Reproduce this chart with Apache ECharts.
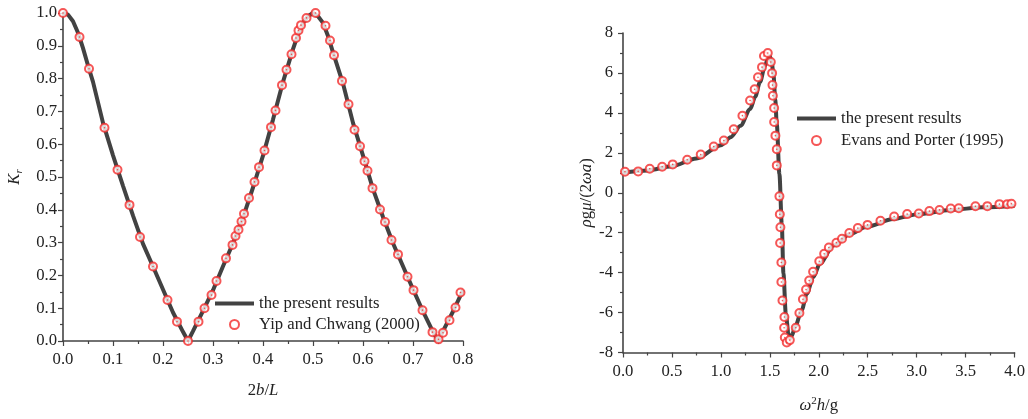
<!DOCTYPE html>
<html>
<head>
<meta charset="utf-8">
<script src="https://cdn.jsdelivr.net/npm/echarts@6/dist/echarts.min.js"></script>
<style>
  html, body { margin: 0; padding: 0; background: #fff; }
  #main { width: 1028px; height: 419px; }
</style>
</head>
<body>
<div id="main"></div>
<script>
// left panel: Kr against 2b/L
var krCurve = [
    [0, 1.0], [0.01, 0.995], [0.02, 0.975], [0.03, 0.94], [0.04, 0.893], [0.05, 0.84],
    [0.06, 0.79], [0.08, 0.665], [0.10, 0.566], [0.12, 0.473], [0.14, 0.382], [0.16, 0.296],
    [0.18, 0.227], [0.20, 0.157], [0.22, 0.087], [0.24, 0.028], [0.25, 0.0], [0.26, 0.03],
    [0.28, 0.092], [0.30, 0.155], [0.32, 0.228], [0.34, 0.298], [0.36, 0.376], [0.38, 0.468],
    [0.40, 0.565], [0.42, 0.675], [0.44, 0.79], [0.46, 0.89], [0.47, 0.935], [0.48, 0.97],
    [0.49, 0.99], [0.50, 1.0], [0.51, 0.99], [0.52, 0.97], [0.53, 0.93], [0.54, 0.88],
    [0.56, 0.785], [0.58, 0.665], [0.60, 0.565], [0.62, 0.463], [0.64, 0.378], [0.66, 0.298],
    [0.68, 0.228], [0.70, 0.158], [0.72, 0.09], [0.74, 0.028], [0.75, 0.0], [0.76, 0.03],
    [0.78, 0.09], [0.80, 0.155]
];
var krYip = [
    [0.0, 1.0], [0.033, 0.927], [0.052, 0.830], [0.083, 0.650], [0.109, 0.522], [0.133, 0.415],
    [0.154, 0.317], [0.180, 0.227], [0.209, 0.125], [0.228, 0.059], [0.250, 0.0], [0.271, 0.059],
    [0.283, 0.100], [0.297, 0.140], [0.307, 0.183], [0.326, 0.252], [0.339, 0.293], [0.345, 0.320],
    [0.351, 0.339], [0.357, 0.364], [0.362, 0.388], [0.372, 0.436], [0.383, 0.485], [0.392, 0.530],
    [0.403, 0.581], [0.416, 0.652], [0.425, 0.703], [0.438, 0.780], [0.447, 0.827], [0.457, 0.874],
    [0.466, 0.924], [0.471, 0.947], [0.476, 0.963], [0.487, 0.985], [0.505, 1.0], [0.525, 0.961],
    [0.534, 0.916], [0.542, 0.871], [0.558, 0.793], [0.571, 0.722], [0.583, 0.644], [0.594, 0.594],
    [0.603, 0.548], [0.609, 0.519], [0.619, 0.466], [0.634, 0.401], [0.644, 0.363], [0.657, 0.308],
    [0.670, 0.264], [0.689, 0.196], [0.701, 0.155], [0.719, 0.094], [0.739, 0.027], [0.751, 0.005],
    [0.760, 0.025], [0.773, 0.063], [0.785, 0.102], [0.795, 0.148]
];

// right panel: rho g mu/(2 omega a) against omega^2 h/g
var rfCurve = [
    [0, 1.0], [0.25, 1.12], [0.5, 1.33], [0.75, 1.72], [1.0, 2.38], [1.1, 2.78], [1.2, 3.35],
    [1.3, 4.2], [1.35, 4.8], [1.4, 5.55], [1.45, 6.35], [1.48, 6.72], [1.5, 6.83], [1.52, 6.5],
    [1.537, 5.92], [1.555, 4.7], [1.571, 3.43], [1.598, 0.93], [1.622, -1.56], [1.639, -4.05],
    [1.663, -6.05], [1.69, -7.05], [1.707, -7.3], [1.725, -7.15], [1.758, -6.71], [1.826, -5.88],
    [1.877, -5.05], [1.945, -4.22], [2.01, -3.56], [2.15, -2.64], [2.32, -2.06], [2.49, -1.70],
    [2.76, -1.31], [3.03, -1.06], [3.34, -0.86], [3.68, -0.73], [4.0, -0.65]
];
var rfEvans = [
    [0.02, 1.05], [0.155, 1.07], [0.273, 1.2], [0.40, 1.30], [0.508, 1.42], [0.656, 1.65],
    [0.794, 1.91], [0.927, 2.31], [1.03, 2.62], [1.131, 3.18], [1.22, 3.86], [1.298, 4.62],
    [1.345, 5.18], [1.379, 5.78], [1.42, 6.29], [1.44, 6.85], [1.479, 7.0], [1.51, 6.55],
    [1.523, 5.99], [1.527, 5.39], [1.531, 4.86], [1.544, 4.24], [1.544, 3.54], [1.557, 2.86],
    [1.571, 2.18], [1.571, 1.37], [1.598, -0.18], [1.602, -1.08], [1.608, -1.73], [1.605, -2.52],
    [1.618, -3.49], [1.618, -4.47], [1.629, -5.40], [1.649, -6.22], [1.646, -6.76], [1.653, -7.25],
    [1.673, -7.50], [1.704, -7.38], [1.765, -6.76], [1.802, -6.02], [1.838, -5.33], [1.87, -4.85],
    [1.902, -4.40], [1.942, -3.96], [2.005, -3.43], [2.055, -3.06], [2.103, -2.74], [2.18, -2.50],
    [2.237, -2.30], [2.312, -2.02], [2.399, -1.77], [2.498, -1.61], [2.63, -1.40], [2.77, -1.19],
    [2.903, -1.07], [3.022, -1.04], [3.13, -0.92], [3.233, -0.86], [3.348, -0.79], [3.43, -0.78],
    [3.60, -0.68], [3.722, -0.67], [3.845, -0.57], [3.925, -0.57], [3.968, -0.55]
];

var lineName = 'the present results';
var yipName = 'Yip and Chwang (2000)';
var evansName = 'Evans and Porter (1995)';

var serif = '"Liberation Serif", "Times New Roman", serif';
var fs = 16.7;
var axisColor = '#444';
var textColor = '#222';
var curveColor = '#424242';
var dotColor = '#f22c2c';

var richName = {
    n: { fontFamily: serif, fontSize: fs, color: textColor },
    i: { fontFamily: serif, fontSize: fs, fontStyle: 'italic', color: textColor },
    sub: { fontFamily: serif, fontSize: 11, fontStyle: 'italic', color: textColor, padding: [9, 0, 0, 0] },
    sup: { fontFamily: serif, fontSize: 11, color: textColor, padding: [0, 0, 9, 0] }
};

function makeAxis(gridIndex, min, max, interval, digits, labelMargin, extra) {
    var ax = {
        type: 'value',
        gridIndex: gridIndex,
        min: min,
        max: max,
        interval: interval,
        splitLine: { show: false },
        axisLine: { show: true, onZero: false, lineStyle: { color: axisColor, width: 1.6 } },
        axisTick: { show: true, inside: false, length: 5, lineStyle: { color: axisColor, width: 1.2 } },
        minorTick: { show: true, splitNumber: 2, length: 3, lineStyle: { color: axisColor, width: 1.2 } },
        axisLabel: {
            color: textColor, fontFamily: serif, fontSize: fs, margin: labelMargin,
            formatter: function (v) { return v.toFixed(digits); }
        },
        nameLocation: 'middle',
        nameTextStyle: { rich: richName }
    };
    for (var k in extra) ax[k] = extra[k];
    return ax;
}

function makeLegend(left, top, gap, names) {
    return {
        orient: 'vertical', left: left, top: top, padding: 0,
        itemWidth: 39, itemHeight: 9, itemGap: gap,
        lineStyle: { width: 4 },
        textStyle: { fontFamily: serif, fontSize: fs, color: textColor },
        data: [
            { name: names[0], itemStyle: { color: 'rgba(0,0,0,0)', borderColor: 'rgba(0,0,0,0)', opacity: 0 } },
            { name: names[1] }
        ]
    };
}

var myChart = echarts.init(document.getElementById('main'));

var option = {
    backgroundColor: '#fff',
    animation: false,
    grid: [
        { left: 63, top: 13, width: 400, height: 328 },
        { left: 623, top: 33, width: 392, height: 321 }
    ],
    xAxis: [
        makeAxis(0, 0, 0.8, 0.1, 1, 10, { name: '{n|2}{i|b}{n|/}{i|L}', nameGap: 41 }),
        makeAxis(1, 0, 4, 0.5, 1, 11, { name: '{i|ω}{sup|2}{i|h}{n|/g}', nameGap: 43 })
    ],
    yAxis: [
        makeAxis(0, 0, 1, 0.1, 1, 6, { name: '{i|K}{sub|r}', nameGap: 38 }),
        makeAxis(1, -8, 8, 2, 0, 10, { name: '{i|ρ}{n|g}{i|μ}{n|/(2}{i|ωa}{n|)}', nameGap: 26 })
    ],
    legend: [
        makeLegend(213, 295, 4, [lineName, yipName]),
        makeLegend(795, 110, 5, [lineName, evansName])
    ],
    series: [
        {
            name: lineName, type: 'line', xAxisIndex: 0, yAxisIndex: 0,
            data: krCurve, symbol: 'none', z: 2,
            lineStyle: { color: curveColor, width: 4 }, itemStyle: { color: curveColor }
        },
        {
            name: yipName, type: 'scatter', xAxisIndex: 0, yAxisIndex: 0,
            data: krYip, symbol: 'emptyCircle', symbolSize: 8, z: 3,
            itemStyle: { color: dotColor, borderColor: dotColor, borderWidth: 1 }
        },
        {
            name: 'yipDots', type: 'scatter', xAxisIndex: 0, yAxisIndex: 0,
            data: krYip, symbol: 'circle', symbolSize: 1.6, z: 4, silent: true,
            itemStyle: { color: dotColor }
        },
        {
            name: lineName, type: 'line', xAxisIndex: 1, yAxisIndex: 1,
            data: rfCurve, symbol: 'none', smooth: 0.3, smoothMonotone: 'x', z: 2,
            lineStyle: { color: curveColor, width: 4 }, itemStyle: { color: curveColor }
        },
        {
            name: evansName, type: 'scatter', xAxisIndex: 1, yAxisIndex: 1,
            data: rfEvans, symbol: 'emptyCircle', symbolSize: 8, z: 3,
            itemStyle: { color: dotColor, borderColor: dotColor, borderWidth: 1 }
        },
        {
            name: 'evansDots', type: 'scatter', xAxisIndex: 1, yAxisIndex: 1,
            data: rfEvans, symbol: 'circle', symbolSize: 1.6, z: 4, silent: true,
            itemStyle: { color: dotColor }
        }
    ]
};

myChart.setOption(option);
</script>
</body>
</html>
